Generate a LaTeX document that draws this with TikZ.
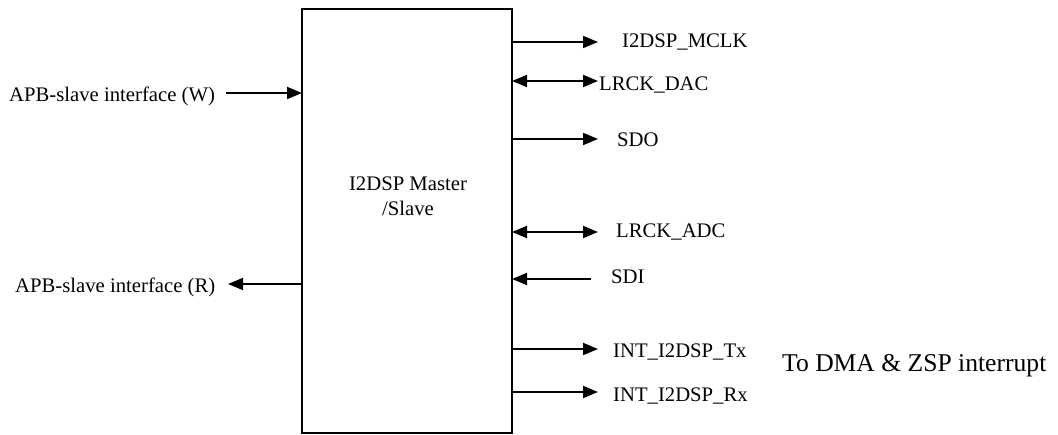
\documentclass[tikz,border=0pt]{standalone}
\usepackage{fontspec}
\setmainfont{Liberation Serif}
\usetikzlibrary{arrows.meta}
\begin{document}
\begin{tikzpicture}[x=1bp,y=-1bp,
  tip/.tip={Triangle[length=15bp,width=12bp]},
  sig/.style={line width=1.8bp,-tip},
  bisig/.style={line width=1.8bp,tip-tip},
  lbl/.style={inner sep=0pt,anchor=base west,font=\fontsize{20.7bp}{24bp}\selectfont},
  block/.style={draw,line width=2bp,inner sep=0pt}]
\useasboundingbox (0,0) rectangle (1058,435);
\fill[white] (0,0) rectangle (1058,435);

% main block
\draw[block] (302,9) rectangle (512,433);
\node[inner sep=0pt,align=center,font=\fontsize{20.7bp}{25bp}\selectfont,anchor=base]
  (title) at (408,216) {I2DSP Master\\/Slave};

% left side
\node[lbl] (apbw) at (9,102) {APB-slave interface (W)};
\coordinate (wl) at (226,93);
\coordinate (wr) at (302,93);
\draw[sig] (wl) -- (wr);

\node[lbl] (apbr) at (15,293) {APB-slave interface (R)};
\coordinate (rl) at (228,284);
\coordinate (rr) at (302,284);
\draw[sig] (rr) -- (rl);

% right side
\coordinate (m0) at (512,42);  \coordinate (m1) at (598,42);
\draw[sig] (m0) -- (m1);
\node[lbl] (mclk) at (622,48) {I2DSP\_MCLK};

\coordinate (d0) at (512,81);  \coordinate (d1) at (598,81);
\draw[bisig] (d0) -- (d1);
\node[lbl] (dac) at (599,91) {LRCK\_DAC};

\coordinate (o0) at (512,139); \coordinate (o1) at (598,139);
\draw[sig] (o0) -- (o1);
\node[lbl] (sdo) at (617,147) {SDO};

\coordinate (a0) at (512,232); \coordinate (a1) at (598,232);
\draw[bisig] (a0) -- (a1);
\node[lbl] (adc) at (616,238) {LRCK\_ADC};

\coordinate (i0) at (512,279); \coordinate (i1) at (591,279);
\draw[sig] (i1) -- (i0);
\node[lbl] (sdi) at (611,284) {SDI};

\coordinate (t0) at (512,349); \coordinate (t1) at (598,349);
\draw[sig] (t0) -- (t1);
\node[lbl] (tx) at (613,358) {INT\_I2DSP\_Tx};

\coordinate (x0) at (512,392); \coordinate (x1) at (598,392);
\draw[sig] (x0) -- (x1);
\node[lbl] (rx) at (613,402) {INT\_I2DSP\_Rx};

\node[lbl,font=\fontsize{25.6bp}{30bp}\selectfont] (dma) at (782,372) {To DMA \& ZSP interrupt};
\end{tikzpicture}
\end{document}
